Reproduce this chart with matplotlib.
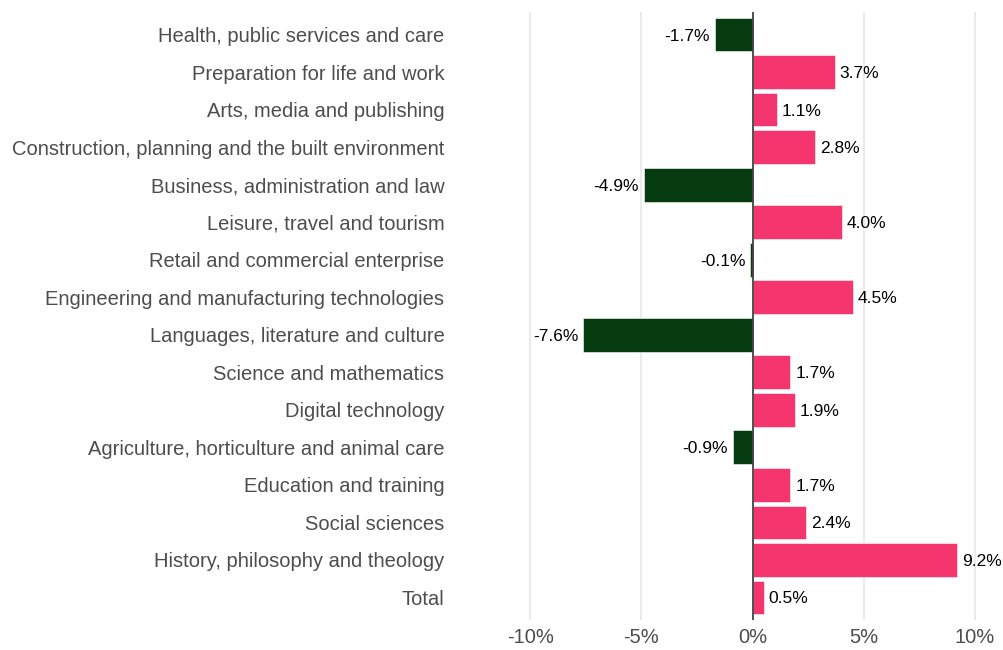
import numpy as np
import matplotlib.pyplot as plt

plt.rcParams['font.family'] = ['Liberation Sans', 'DejaVu Sans']

# categories top to bottom
subjects = ["Health, public services and care", "Preparation for life and work",
            "Arts, media and publishing", "Construction, planning and the built environment",
            "Business, administration and law", "Leisure, travel and tourism",
            "Retail and commercial enterprise", "Engineering and manufacturing technologies",
            "Languages, literature and culture", "Science and mathematics",
            "Digital technology", "Agriculture, horticulture and animal care",
            "Education and training", "Social sciences",
            "History, philosophy and theology", "Total"]
change = [-1.7, 3.7, 1.1, 2.8, -4.9, 4.0, -0.1, 4.5, -7.6, 1.7, 1.9, -0.9, 1.7, 2.4, 9.2, 0.5]
ticks = [-10, -5, 0, 5, 10]
tick_labels = ["-10%", "-5%", "0%", "5%", "10%"]

W, H = 1004, 650
fig = plt.figure(figsize=(W / 100, H / 100), dpi=100)
ax = fig.add_axes([450 / W, (H - 620) / H, (1004 - 450) / W, 608 / H])

pos = np.arange(len(subjects))[::-1]
colors = ["#F5366E" if v >= 0 else "#063A0F" for v in change]
ax.barh(pos, change, height=0.9, color=colors, edgecolor="white", linewidth=0.4, zorder=2)

for y, v in zip(pos, change):
    if v >= 0:
        ax.text(v + 0.22, y, f"{v:.1f}%", va="center_baseline", ha="left", fontsize=12.5, color="black")
    else:
        ax.text(v - 0.22, y, f"{v:.1f}%", va="center_baseline", ha="right", fontsize=12.5, color="black")

ax.axvline(0, color="#444444", linewidth=1.3, zorder=3)
ax.set_xlim(-13.6, 11.3)
ax.set_ylim(-0.6, 15.6)
ax.set_xticks(ticks)
ax.set_xticklabels(tick_labels)
ax.set_yticks(pos)
ax.set_yticklabels(subjects)
ax.grid(axis="x", color="#EBEBEB", linewidth=1.5, zorder=0)
ax.set_axisbelow(True)
for s in ax.spines.values():
    s.set_visible(False)
ax.tick_params(length=0, labelsize=14.5, labelcolor="#4D4D4D")
ax.tick_params(axis="y", pad=4)
ax.tick_params(axis="x", pad=6)

fig.savefig("out.png", dpi=100)
